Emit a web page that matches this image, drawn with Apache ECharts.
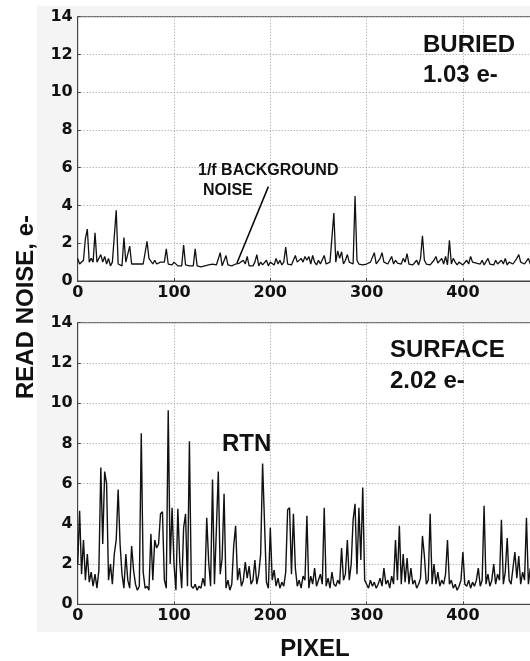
<!DOCTYPE html>
<html>
<head>
<meta charset="utf-8">
<script src="https://cdn.jsdelivr.net/npm/echarts@6/dist/echarts.min.js"></script>
<style>html,body{margin:0;padding:0;background:#fff}#c{width:530px;height:661px}</style>
</head>
<body>
<div id="c"></div>
<script>
// pixel index step between samples
const PIXEL_STEP = 2;
const xTicks = [0, 100, 200, 300, 400];
const yTicks = [0, 2, 4, 6, 8, 10, 12, 14];

// BURIED channel read noise (e-), one value per PIXEL_STEP pixels
const buried = [
1.2,0.9,1.0,1.1,2.25,2.75,1.0,1.2,1.0,2.55,
1.0,1.1,1.4,1.0,1.3,0.9,1.2,0.8,1.0,0.9,
3.75,0.9,1.0,0.8,2.3,1.0,1.1,1.85,0.9,0.8,
0.9,0.8,0.9,0.85,0.9,1.0,2.1,1.2,1.3,0.9,
1.1,0.9,0.8,1.0,0.9,1.0,1.7,0.9,0.95,0.85,
1.0,0.9,0.8,0.9,0.8,1.9,0.85,0.9,0.8,0.85,
0.8,1.7,0.8,0.9,0.75,0.7,0.8,0.75,0.85,0.8,
0.9,0.8,0.85,0.9,1.5,0.8,0.9,1.35,0.85,0.9,
0.8,0.85,0.9,0.8,0.95,0.85,1.1,0.9,1.3,0.8,
0.9,0.8,1.0,1.4,0.8,1.0,0.85,0.9,1.1,0.8,
1.0,0.9,0.85,1.2,0.9,1.1,0.85,1.0,1.8,0.9,
1.0,0.85,1.1,1.35,1.0,0.9,1.2,1.0,1.3,1.1,
1.3,0.9,1.35,1.0,0.85,1.1,0.9,1.0,1.35,0.9,
0.9,1.0,1.1,3.6,1.0,1.6,1.2,1.55,0.9,1.1,
1.4,1.0,1.1,0.9,4.5,1.1,0.9,1.0,0.85,0.9,
0.9,0.85,1.0,0.9,1.5,0.9,1.0,1.2,1.5,1.0,
1.1,0.9,1.0,1.3,0.9,1.1,0.95,1.0,0.9,1.2,
1.0,1.45,0.9,1.0,0.85,0.9,1.1,0.85,1.2,2.4,
1.1,0.9,1.0,0.85,0.9,1.1,1.3,0.95,1.0,1.2,
0.9,1.3,0.85,2.15,0.9,1.2,1.0,0.85,1.0,0.9,
0.85,0.9,1.1,0.9,1.3,1.0,1.1,0.95,1.0,0.9,
1.1,0.85,0.9,1.2,0.9,1.0,0.85,1.1,0.9,1.0,
1.1,0.9,1.2,0.85,1.0,1.1,0.9,1.0,1.2,1.4,
1.0,1.1,0.9,1.0,1.2,0.9,1.0,1.1,0.9,1.0
];

// SURFACE channel read noise (e-), one value per PIXEL_STEP pixels
const surface = [
2.0,4.65,1.5,3.2,1.2,2.5,1.1,1.6,0.9,1.5,
0.8,1.7,6.8,3.0,6.6,6.0,1.2,2.0,1.0,2.5,
3.2,5.7,3.0,1.5,0.8,2.5,1.2,0.8,2.9,1.7,
1.0,0.7,0.9,8.5,1.6,0.8,0.9,0.7,3.5,1.2,
3.2,2.8,3.0,4.5,4.6,1.2,0.8,9.65,2.0,4.8,
2.0,0.7,4.75,2.1,0.8,3.8,4.5,0.9,8.1,0.9,
0.8,1.0,0.7,0.9,0.8,1.3,0.9,4.3,2.1,0.9,
6.2,1.0,3.7,6.6,1.5,2.3,5.5,0.8,1.2,0.7,
1.0,2.9,3.9,1.2,1.8,0.9,1.2,2.1,1.3,1.9,
1.0,1.2,2.2,1.0,1.5,2.5,7.0,7.0,1.1,0.8,
3.8,1.2,1.7,0.9,1.3,0.8,1.1,0.9,1.6,4.7,
4.8,1.5,4.5,1.8,0.9,1.2,0.8,1.4,1.2,4.4,
0.8,1.4,1.0,1.8,0.9,1.2,1.5,1.0,4.8,0.9,
1.3,0.8,1.6,1.0,0.9,1.2,1.0,2.8,1.2,1.5,
3.2,1.2,2.0,4.2,5.0,1.5,4.8,2.2,5.8,1.2,
1.0,0.8,1.2,0.9,1.1,0.8,1.0,1.3,0.9,1.8,
1.0,1.2,0.8,1.4,1.0,3.2,1.2,3.9,1.0,2.5,
1.1,2.3,1.0,1.8,1.0,1.2,0.8,1.0,1.3,3.4,
2.4,1.0,1.2,4.5,1.0,2.0,1.0,1.6,0.9,1.2,
1.0,1.5,3.2,1.0,1.2,0.8,1.0,0.7,0.9,1.2,
2.6,1.0,0.9,1.2,0.8,1.1,0.9,1.2,1.8,0.9,
1.2,4.9,1.0,1.5,0.9,1.2,2.0,1.0,1.5,1.2,
4.2,1.0,1.6,3.3,1.2,1.0,1.8,2.6,1.3,2.4,
1.0,1.6,1.2,4.3,1.0,1.8,1.2,2.5,1.0,1.5
];

// annotation arrow (data coords in top panel)
const arrowFrom = [165.4, 0.95];
const arrowTo = [198, 5.0];

const toPairs = arr => arr.map((v, i) => [i * PIXEL_STEP, v]);

const tickFont = { fontFamily: 'DejaVu Sans', fontWeight: 'bold', fontSize: 16, color: '#111' };
function xAx(idx) {
  return {
    type: 'value', gridIndex: idx, min: xTicks[0], max: 500, interval: xTicks[1] - xTicks[0],
    axisLine: { show: true, lineStyle: { color: '#444', width: 1 } },
    axisTick: { show: true, inside: true, length: 3, lineStyle: { color: '#444' } },
    axisLabel: Object.assign({ margin: 4 }, tickFont),
    splitLine: { show: true, lineStyle: { color: '#9a9a9a', type: [1, 2], width: 1 } }
  };
}
function yAx(idx) {
  return {
    type: 'value', gridIndex: idx, min: yTicks[0], max: yTicks[yTicks.length - 1], interval: yTicks[1] - yTicks[0],
    axisLine: { show: true, lineStyle: { color: '#444', width: 1 } },
    axisTick: { show: true, inside: true, length: 3, lineStyle: { color: '#444' } },
    axisLabel: Object.assign({ margin: 5 }, tickFont),
    splitLine: { show: true, lineStyle: { color: '#9a9a9a', type: [1, 2], width: 1 } }
  };
}

const bigFont = { fontFamily: 'Liberation Sans', fontWeight: 'bold', fontSize: 24, fill: '#111' };
function txt(text, x, y, extra) {
  return { type: 'text', x: x, y: y, z: 100,
    style: Object.assign({ text: text, verticalAlign: 'middle', align: 'left' }, bigFont, extra || {}) };
}

const chart = echarts.init(document.getElementById('c'), null, { renderer: 'canvas' });
chart.setOption({
  animation: false,
  backgroundColor: '#ffffff',
  grid: [
    { left: 77.7, top: 16.7, width: 481.5, height: 264.3, show: true, backgroundColor: '#ffffff', borderColor: '#444', borderWidth: 1, containLabel: false, outerBoundsMode: 'none' },
    { left: 77.7, top: 322.7, width: 481.5, height: 281.6, show: true, backgroundColor: '#ffffff', borderColor: '#444', borderWidth: 1, containLabel: false, outerBoundsMode: 'none' }
  ],
  xAxis: [xAx(0), xAx(1)],
  yAxis: [yAx(0), yAx(1)],
  series: [
    {
      type: 'line', xAxisIndex: 0, yAxisIndex: 0, data: toPairs(buried),
      showSymbol: false, symbol: 'none',
      lineStyle: { color: '#111', width: 1.3 },
      markLine: {
        silent: true, symbol: ['none', 'none'], animation: false,
        label: { show: false },
        lineStyle: { color: '#000', width: 1.5, type: 'solid' },
        data: [[{ coord: arrowFrom }, { coord: arrowTo }]]
      }
    },
    {
      type: 'line', xAxisIndex: 1, yAxisIndex: 1, data: toPairs(surface),
      showSymbol: false, symbol: 'none',
      lineStyle: { color: '#111', width: 1.4 }
    }
  ],
  graphic: [
    { type: 'rect', z: -10, shape: { x: 37, y: 6, width: 493, height: 626 }, style: { fill: '#f4f4f4' }, silent: true },
    txt('BURIED', 423, 45),
    txt('1.03 e-', 423, 75),
    txt('SURFACE', 390, 350),
    txt('2.02 e-', 390, 381),
    txt('RTN', 222, 444),
    txt('1/f BACKGROUND', 198, 171, { fontSize: 16 }),
    txt('NOISE', 203, 190.5, { fontSize: 16 }),
    txt('PIXEL', 315, 649, { align: 'center' }),
    { type: 'text', x: 26, y: 307, rotation: Math.PI / 2, z: 100,
      style: Object.assign({ text: 'READ NOISE, e-', align: 'center', verticalAlign: 'middle' }, bigFont) }
  ]
});
</script>
</body>
</html>
